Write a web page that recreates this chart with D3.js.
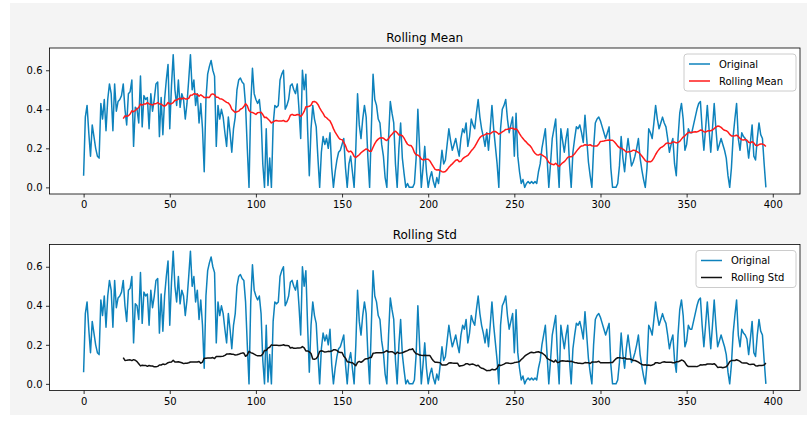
<!DOCTYPE html>
<html>
<head>
<meta charset="utf-8">
<script src="https://cdn.jsdelivr.net/npm/d3@7"></script>
<style>
  html, body { margin: 0; padding: 0; background: #ffffff; }
  svg { display: block; }
  text { font-family: "DejaVu Sans", sans-serif; fill: #000; }
</style>
</head>
<body>
<svg id="chart" width="807" height="425"></svg>
<script>
// Raw series, one value per step
const original = [
  0.06,0.36,0.42,0.28,0.16,0.32,0.26,0.20,0.16,0.15,
  0.43,0.35,0.45,0.29,0.45,0.53,0.48,0.29,0.53,0.39,
  0.44,0.45,0.47,0.53,0.40,0.32,0.48,0.49,0.55,0.21,
  0.41,0.40,0.33,0.57,0.31,0.47,0.45,0.46,0.30,0.48,
  0.39,0.45,0.53,0.54,0.26,0.46,0.27,0.45,0.55,0.63,
  0.30,0.52,0.68,0.50,0.42,0.55,0.41,0.48,0.45,0.35,
  0.43,0.55,0.68,0.50,0.55,0.42,0.48,0.33,0.43,0.30,
  0.08,0.45,0.58,0.62,0.65,0.60,0.57,0.21,0.42,0.35,
  0.40,0.36,0.28,0.21,0.36,0.28,0.18,0.30,0.36,0.50,
  0.55,0.56,0.54,0.53,0.42,0.20,0.00,0.42,0.61,0.48,
  0.45,0.43,0.45,0.36,0.12,0.00,0.30,0.01,0.15,0.00,
  0.32,0.42,0.41,0.42,0.55,0.58,0.60,0.40,0.42,0.45,
  0.52,0.53,0.50,0.48,0.53,0.40,0.25,0.60,0.50,0.58,
  0.30,0.06,0.30,0.42,0.35,0.31,0.15,0.00,0.18,0.26,
  0.22,0.25,0.20,0.28,0.10,0.00,0.08,0.14,0.18,0.19,
  0.22,0.25,0.10,0.00,0.12,0.16,0.08,0.00,0.20,0.48,
  0.32,0.25,0.35,0.42,0.36,0.15,0.00,0.30,0.58,0.45,
  0.42,0.35,0.33,0.22,0.16,0.05,0.00,0.25,0.44,0.38,
  0.33,0.12,0.00,0.20,0.33,0.15,0.07,0.00,0.02,0.00,
  0.00,0.00,0.02,0.15,0.40,0.20,0.00,0.10,0.21,0.08,
  0.00,0.05,0.08,0.03,0.00,0.05,0.02,0.10,0.19,0.12,
  0.14,0.22,0.30,0.24,0.19,0.22,0.25,0.20,0.16,0.25,
  0.30,0.28,0.33,0.21,0.26,0.35,0.32,0.30,0.38,0.45,
  0.36,0.30,0.26,0.21,0.28,0.19,0.30,0.42,0.30,0.21,
  0.12,0.00,0.30,0.40,0.42,0.45,0.35,0.28,0.32,0.36,
  0.16,0.38,0.16,0.08,0.02,0.04,0.00,0.02,0.03,0.02,
  0.03,0.02,0.03,0.02,0.08,0.12,0.20,0.25,0.30,0.15,
  0.00,0.12,0.25,0.30,0.35,0.15,0.00,0.30,0.24,0.18,
  0.25,0.30,0.12,0.00,0.18,0.25,0.31,0.30,0.32,0.28,
  0.23,0.37,0.25,0.13,0.06,0.00,0.20,0.33,0.35,0.36,
  0.34,0.31,0.28,0.25,0.28,0.31,0.10,0.00,0.00,0.00,
  0.02,0.11,0.26,0.15,0.08,0.18,0.25,0.18,0.11,0.13,
  0.16,0.20,0.25,0.15,0.09,0.04,0.00,0.10,0.30,0.28,
  0.25,0.33,0.42,0.35,0.30,0.33,0.36,0.33,0.31,0.25,
  0.18,0.22,0.25,0.12,0.06,0.25,0.38,0.43,0.35,0.19,
  0.22,0.30,0.28,0.28,0.32,0.36,0.40,0.43,0.44,0.30,
  0.19,0.30,0.42,0.30,0.18,0.30,0.43,0.30,0.19,0.22,
  0.25,0.22,0.19,0.15,0.06,0.00,0.10,0.26,0.35,0.43,
  0.25,0.19,0.28,0.26,0.25,0.23,0.15,0.23,0.32,0.16,
  0.14,0.25,0.33,0.27,0.25,0.12,0.00
];
const windowSize = 24;
const yTickValues = [0, 0.2, 0.4, 0.6];
const xTickValues = [0, 50, 100, 150, 200, 250, 300, 350, 400];
const panelTitles = ["Rolling Mean", "Rolling Std"];
const legendLabels = [["Original", "Rolling Mean"], ["Original", "Rolling Std"]];

// Rolling statistics over a trailing window (sample std, ddof = 1)
const rollMean = original.map((v, i) => i < windowSize - 1 ? null :
  d3.mean(original.slice(i - windowSize + 1, i + 1)));
const rollStd = original.map((v, i) => i < windowSize - 1 ? null :
  d3.deviation(original.slice(i - windowSize + 1, i + 1)));

const svg = d3.select("#chart");
const W = 807, H = 425;
svg.append("rect").attr("x", 0).attr("y", 0).attr("width", W).attr("height", H).attr("fill", "#ffffff");
svg.append("rect").attr("x", 10).attr("y", 3).attr("width", W - 10).attr("height", 412).attr("fill", "#f4f4f4");

const n = original.length;
const yMax = d3.max(original), yMin = d3.min(original);
const padY = (yMax - yMin) * 0.05;
const xScale = d3.scaleLinear().domain([-0.05 * (n - 1), 1.05 * (n - 1)]).range([49.5, 800]);

const BLUE = "#0e82bc", RED = "#ff1a1a", BLACK = "#111111";

const panels = [
  { top: 48, bottom: 194, second: rollMean, color: RED },
  { top: 244.5, bottom: 390.5, second: rollStd, color: BLACK }
];

panels.forEach((p, k) => {
  const yScale = d3.scaleLinear().domain([yMin - padY, yMax + padY]).range([p.bottom, p.top]);
  const g = svg.append("g");
  g.append("rect").attr("x", xScale.range()[0]).attr("y", p.top)
    .attr("width", xScale.range()[1] - xScale.range()[0]).attr("height", p.bottom - p.top)
    .attr("fill", "#ffffff");

  const clipId = "clip" + k;
  svg.append("clipPath").attr("id", clipId).append("rect")
    .attr("x", xScale.range()[0]).attr("y", p.top)
    .attr("width", xScale.range()[1] - xScale.range()[0]).attr("height", p.bottom - p.top);

  const line = d3.line().defined(d => d[1] !== null).x(d => xScale(d[0])).y(d => yScale(d[1]));
  const plot = g.append("g").attr("clip-path", `url(#${clipId})`);
  plot.append("path").datum(original.map((v, i) => [i, v]))
    .attr("d", line).attr("fill", "none").attr("stroke", BLUE).attr("stroke-width", 1.5)
    .attr("stroke-linejoin", "round");
  plot.append("path").datum(p.second.map((v, i) => [i, v]))
    .attr("d", line).attr("fill", "none").attr("stroke", p.color).attr("stroke-width", 1.5)
    .attr("stroke-linejoin", "round");

  // axes
  const xAxis = d3.axisBottom(xScale).tickValues(xTickValues).tickSize(3.5).tickPadding(3.5).tickFormat(d3.format("d"));
  const yAxis = d3.axisLeft(yScale).tickValues(yTickValues).tickSize(3.5).tickPadding(3.5).tickFormat(d3.format(".1f"));
  const gx = g.append("g").attr("transform", `translate(0,${p.bottom})`).call(xAxis);
  const gy = g.append("g").attr("transform", `translate(${xScale.range()[0]},0)`).call(yAxis);
  [gx, gy].forEach(a => {
    a.select(".domain").remove();
    a.selectAll("line").attr("stroke", "#000").attr("stroke-width", 0.8);
    a.selectAll("text").attr("font-size", 10).attr("font-family", "DejaVu Sans").attr("fill", "#000");
  });

  // frame
  g.append("rect").attr("x", xScale.range()[0]).attr("y", p.top)
    .attr("width", xScale.range()[1] - xScale.range()[0]).attr("height", p.bottom - p.top)
    .attr("fill", "none").attr("stroke", "#000").attr("stroke-width", 0.8);

  // title
  g.append("text").attr("x", (xScale.range()[0] + xScale.range()[1]) / 2).attr("y", p.top - 6)
    .attr("text-anchor", "middle").attr("font-size", 12).text(panelTitles[k]);

  // legend
  const labels = legendLabels[k];
  const lw = k === 0 ? 112 : 100;
  const lx = 796 - lw, ly = p.top + 6;
  const lg = g.append("g");
  lg.append("rect").attr("x", lx).attr("y", ly).attr("width", lw).attr("height", 37)
    .attr("rx", 3).attr("fill", "#ffffff").attr("fill-opacity", 0.8)
    .attr("stroke", "#cccccc").attr("stroke-width", 1);
  [BLUE, p.color].forEach((c, j) => {
    const yy = ly + 10 + j * 17;
    lg.append("line").attr("x1", lx + 5).attr("x2", lx + 26).attr("y1", yy).attr("y2", yy)
      .attr("stroke", c).attr("stroke-width", 1.5);
    lg.append("text").attr("x", lx + 35).attr("y", yy + 3.6).attr("font-size", 10).text(labels[j]);
  });
});
</script>
</body>
</html>
